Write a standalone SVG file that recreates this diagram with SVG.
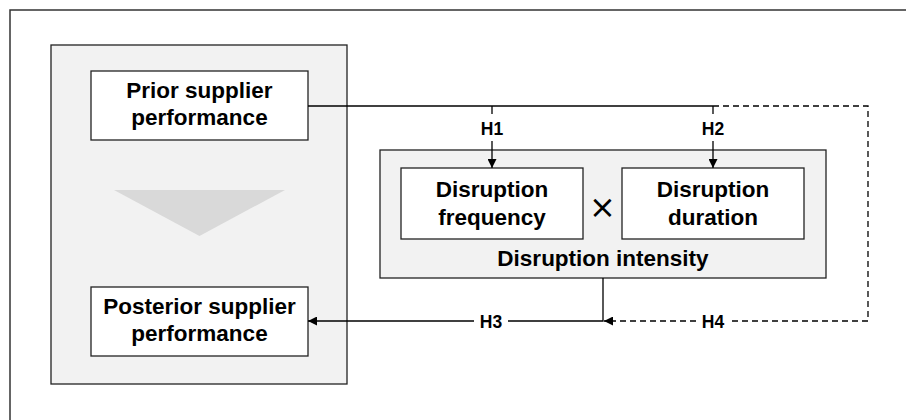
<svg xmlns="http://www.w3.org/2000/svg" width="906" height="420" viewBox="0 0 906 420">
<style>
.frame{fill:#fff;stroke:#333;stroke-width:1.5}
.panel{fill:#f2f2f2;stroke:#222;stroke-width:1.3}
.box{fill:#fff;stroke:#222;stroke-width:1.3}
.t{font-family:"Liberation Sans",Arial,sans-serif;font-weight:bold;font-size:22.5px;fill:#000;text-anchor:middle}
.lbl{font-family:"Liberation Sans",Arial,sans-serif;font-weight:bold;font-size:17.5px;fill:#000;text-anchor:middle}
.ln{fill:none;stroke:#000;stroke-width:1.3}
.dash{fill:none;stroke:#000;stroke-width:1.3;stroke-dasharray:6 4}
</style>
<defs>
<marker id="ah" viewBox="0 0 10 10" refX="10" refY="5" markerWidth="10" markerHeight="9" markerUnits="userSpaceOnUse" orient="auto">
<path d="M0,0 L10,5 L0,10 Z" fill="#000"/>
</marker>
</defs>
<rect class="frame" x="10" y="10" width="920" height="440"/>
<g id="panel-supplier">
<rect class="panel" x="51" y="45" width="296" height="339"/>
<polygon points="114,190 285,190 199.5,236" fill="#d9d9d9"/>
</g>
<g id="node-prior">
<rect class="box" x="91" y="71" width="217" height="69"/>
<text class="t" x="199.5" y="98">Prior supplier</text>
<text class="t" x="199.5" y="125">performance</text>
</g>
<g id="node-posterior">
<rect class="box" x="91" y="287" width="217" height="69"/>
<text class="t" x="199.5" y="314">Posterior supplier</text>
<text class="t" x="199.5" y="341">performance</text>
</g>
<g id="node-intensity">
<rect class="panel" x="380" y="150" width="446" height="128"/>
<text class="t" x="603" y="266">Disruption intensity</text>
</g>
<g id="node-frequency">
<rect class="box" x="401" y="168" width="182" height="71"/>
<text class="t" x="492" y="197">Disruption</text>
<text class="t" x="492" y="225">frequency</text>
</g>
<g id="node-duration">
<rect class="box" x="622" y="168" width="182" height="71"/>
<text class="t" x="713" y="197">Disruption</text>
<text class="t" x="713" y="225">duration</text>
</g>
<text x="602.5" y="218" font-family="DejaVu Sans,sans-serif" font-size="32" text-anchor="middle" fill="#000">×</text>
<g id="connectors">
<path class="ln" d="M308,106 H713"/>
<path class="dash" d="M713,106 H868 V321 H730"/>
<path class="dash" d="M696,321 H604" marker-end="url(#ah)"/>
<path class="ln" d="M492,106 V114"/>
<path class="ln" d="M492,141 V168" marker-end="url(#ah)"/>
<path class="ln" d="M713,106 V114"/>
<path class="ln" d="M713,141 V168" marker-end="url(#ah)"/>
<path class="ln" d="M603,278 V321 H508"/>
<path class="ln" d="M474,321 H308" marker-end="url(#ah)"/>
<text class="lbl" x="492" y="135">H1</text>
<text class="lbl" x="713" y="135">H2</text>
<text class="lbl" x="491" y="327.5">H3</text>
<text class="lbl" x="713" y="327.5">H4</text>
</g>
</svg>
